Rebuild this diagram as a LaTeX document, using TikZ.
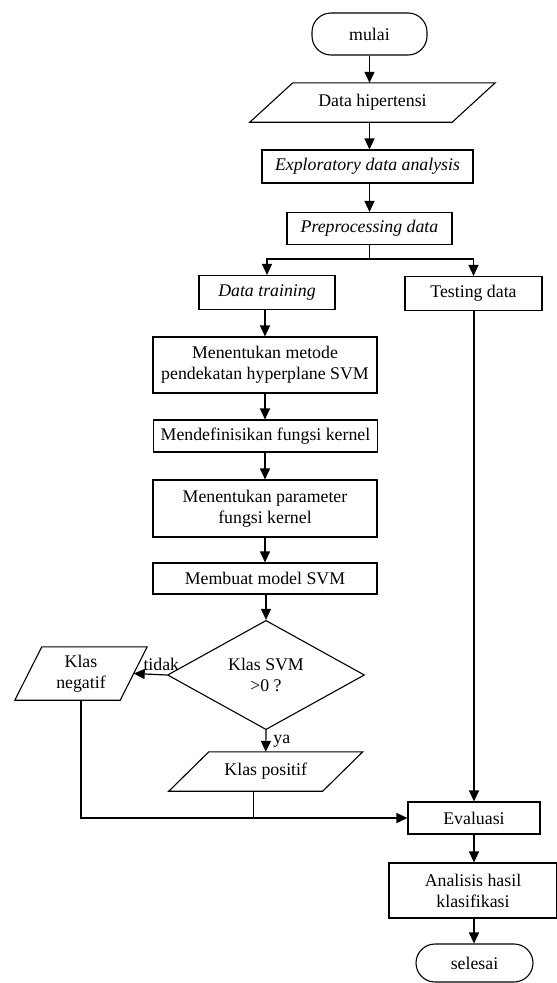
\documentclass[tikz,border=0pt]{standalone}
\usepackage{fontspec}
\setmainfont{Liberation Serif}
\usetikzlibrary{shapes.geometric,arrows.meta}
\newcommand{\paral}[2]{\draw[line width=1.1pt] ([xshift=#2]#1.north west) -- ([xshift=#2]#1.north east) -- ([xshift=-#2]#1.south east) -- ([xshift=-#2]#1.south west) -- cycle;}
\begin{document}
\begin{tikzpicture}[x=1pt,y=-1pt,
  every node/.style={font=\fontsize{17.8}{21}\selectfont, inner sep=0pt, align=center},
  box/.style={draw, line width=1.1pt, rectangle, minimum width=#1},
  term/.style={draw, line width=1.1pt, rectangle, rounded corners=19pt, minimum width=#1},
  para/.style={rectangle, minimum width=#1},
  arr/.style={line width=1.2pt, -{Triangle[length=11pt,width=10pt]}},
  ln/.style={line width=1.2pt}]
\useasboundingbox (0,0) rectangle (557,983);
\fill[white] (0,0) rectangle (557,983);

\node[term=115pt, minimum height=42pt] (mulai) at (369.5,34) {mulai};
\node[para=202pt, minimum height=39pt] (hip) at (372.5,102.5) {Data hipertensi};
\paral{hip}{21.5pt}
\node[box=211pt, minimum height=33pt] (eda) at (367.5,166.5) {\itshape Exploratory data analysis};
\node[box=165pt, minimum height=32pt] (pre) at (369.5,228.5) {\itshape Preprocessing data};
\node[box=136pt, minimum height=34pt] (train) at (267,292.5) {\itshape Data training};
\node[box=137pt, minimum height=34pt] (test) at (473.5,293.5) {Testing data};
\node[box=224pt, minimum height=56pt] (m1) at (265,365) {Menentukan metode\\pendekatan hyperplane SVM};
\node[box=224pt, minimum height=32pt] (m2) at (265.5,436) {Mendefinisikan fungsi kernel};
\node[box=224pt, minimum height=57pt] (m3) at (265,508.5) {Menentukan parameter\\fungsi kernel};
\node[box=224pt, minimum height=31pt] (m4) at (265,578.5) {Membuat model SVM};
\node[diamond, draw, line width=1.1pt, minimum width=197pt, minimum height=102pt] (dia) at (266,675) {Klas SVM\\>0 ?};
\node[para=105pt, minimum height=53pt] (neg) at (81,673.5) {Klas\\negatif};
\paral{neg}{13.5pt}
\node[para=153.5pt, minimum height=39pt] (pos) at (265.75,771.5) {Klas positif};
\paral{pos}{20pt}
\node[box=132pt, minimum height=32pt] (eval) at (474,818) {Evaluasi};
\node[box=168pt, minimum height=55pt] (ana) at (473,890.5) {Analisis hasil\\klasifikasi};
\node[term=117pt, minimum height=38pt] (sel) at (474.5,963) {selesai};

\coordinate (br) at (369.5,259);
\coordinate (pj) at (253,817);

\draw[arr] (mulai.south) -- (mulai.south |- hip.north);
\draw[arr] (mulai.south |- hip.south) -- (mulai.south |- eda.north);
\draw[arr] (mulai.south |- eda.south) -- (mulai.south |- pre.north);
\draw[ln] (pre.south) -- (br);
\draw[arr] (br) -| (train.north);
\draw[arr] (br) -| (test.north);
\draw[arr] (m1.north |- train.south) -- (m1.north);
\draw[arr] (m1.south) -- (m1.south |- m2.north);
\draw[arr] (m1.south |- m2.south) -- (m1.south |- m3.north);
\draw[arr] (m3.south) -- (m3.south |- m4.north);
\draw[arr] (m4.south -| dia.north) -- (dia.north);
\draw[arr] (dia.west) -- node[above=0pt, xshift=11pt, yshift=3pt] {tidak} (neg.east);
\draw[arr] (dia.south) -- node[right=7pt] {ya} (pos.north);
\draw[arr, line width=1.5pt] (neg.south) |- (eval.west);
\draw[line width=0.7pt] (pos.south -| pj) -- (pj);
\draw[arr] (eval.north |- test.south) -- (eval.north);
\draw[arr] (eval.south) -- (eval.south |- ana.north);
\draw[arr] (eval.south |- ana.south) -- (eval.south |- sel.north);
\end{tikzpicture}
\end{document}
